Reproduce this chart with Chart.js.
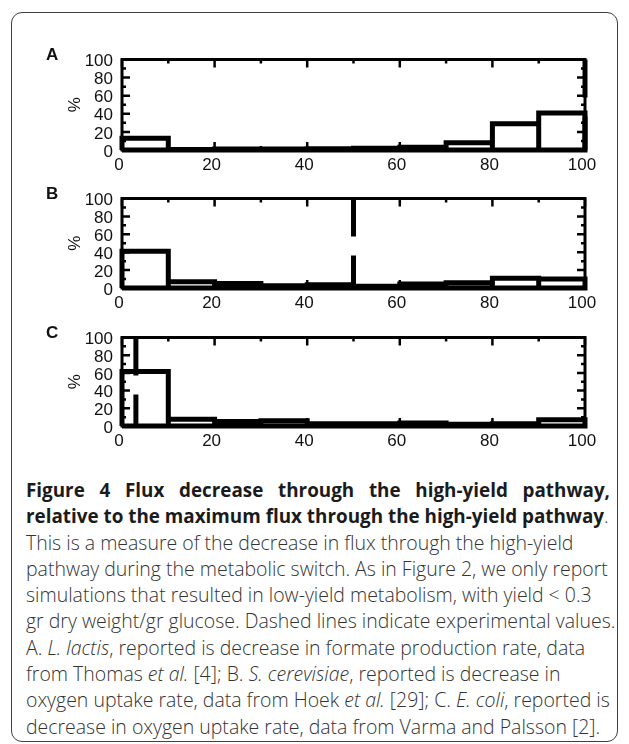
<!DOCTYPE html>
<html>
<head>
<meta charset="utf-8">
<script src="https://cdn.jsdelivr.net/npm/chart.js@4.4.1/dist/chart.umd.min.js"></script>
<style>
  html, body { margin:0; padding:0; background:#fff; }
  body { position:relative; width:629px; height:744px; overflow:hidden; }
  #box { position:absolute; left:11px; top:12px; width:607px; height:730px; box-sizing:border-box; border:1.6px solid #404040; border-radius:11px; }
  canvas.panel { position:absolute; left:0; }
  .letter { position:absolute; left:46px; font-family:"Liberation Sans", Arial, sans-serif; font-weight:bold; font-size:17px; line-height:17px; color:#111; }
  #caption { position:absolute; left:26px; top:477px; width:584px; color:#333; font-size:18px; }
  #caption .ln { white-space:nowrap; height:26.3px; line-height:26.3px; }
  #caption .bold { font-family:"Open Sans", sans-serif; font-weight:700; color:#1b1b1b; }
  #caption .reg { font-family:"Open Sans", sans-serif; font-weight:300; }
  #caption .just { text-align:justify; text-align-last:justify; white-space:normal; overflow:hidden; }
</style>
</head>
<body>
<div id="box"></div>
<canvas id="cA" class="panel"></canvas>
<canvas id="cB" class="panel"></canvas>
<canvas id="cC" class="panel"></canvas>
<div class="letter" id="lA"></div>
<div class="letter" id="lB"></div>
<div class="letter" id="lC"></div>

<div id="caption">
  <div class="ln bold just" id="boldLine1">Figure 4 Flux decrease through the high-yield pathway,</div>
  <div class="ln"><span id="boldRef"><span class="bold">relative to the maximum flux through the high-yield pathway</span><span class="reg">.</span></span></div>
  <div class="ln reg body">This is a measure of the decrease in flux through the high-yield</div>
  <div class="ln reg body"><span id="bodyRef">pathway during the metabolic switch. As in Figure 2, we only report</span></div>
  <div class="ln reg body">simulations that resulted in low-yield metabolism, with yield &lt; 0.3</div>
  <div class="ln reg body">gr dry weight/gr glucose. Dashed lines indicate experimental values.</div>
  <div class="ln reg body">A. <i>L. lactis</i>, reported is decrease in formate production rate, data</div>
  <div class="ln reg body">from Thomas <i>et al.</i> [4]; B. <i>S. cerevisiae</i>, reported is decrease in</div>
  <div class="ln reg body">oxygen uptake rate, data from Hoek <i>et al.</i> [29]; C. <i>E. coli</i>, reported is</div>
  <div class="ln reg body">decrease in oxygen uptake rate, data from Varma and Palsson [2].</div>
</div>

<script>
// ---- data ----
const binStarts = [0, 10, 20, 30, 40, 50, 60, 70, 80, 90];
const binWidth = 10;
const panelNames = ['A', 'B', 'C'];
const simA = [13, 0.5, 1, 1, 1.5, 2, 3, 8, 29, 41];
const simB = [41, 7, 5, 2.5, 3.5, 2, 4.5, 6, 11, 10];
const simC = [61.5, 7.7, 5, 6, 2.5, 2.5, 3.5, 2, 2.5, 7];
const experimentalA = 100;
const experimentalB = 50;
const experimentalC = 3;
const xTickValues = [0, 20, 40, 60, 80, 100];
const yTickValues = [0, 20, 40, 60, 80, 100];
const frameTickValues = [0, 10, 20, 30, 40, 50, 60, 70, 80, 90, 100];
const yAxisLabel = '%';

// ---- caption fitting ----
(function fitCaption() {
  const bodyRef = document.getElementById('bodyRef');
  const w = bodyRef.getBoundingClientRect().width;
  const bodySize = 18 * 582 / w;
  document.querySelectorAll('#caption .body').forEach(el => el.style.fontSize = bodySize + 'px');
  const boldRef = document.getElementById('boldRef');
  const wb = boldRef.getBoundingClientRect().width;
  const boldSize = 18 * 583 / wb;
  boldRef.style.fontSize = boldSize + 'px';
  document.getElementById('boldLine1').style.fontSize = boldSize + 'px';
})();

// ---- chart ----
const FONT = '"Liberation Sans", Arial, sans-serif';

const frameTicks = {
  id: 'frameTicks',
  afterDatasetsDraw(chart) {
    const { ctx, chartArea: a, scales: { x, y } } = chart;
    ctx.save();
    ctx.strokeStyle = '#000';
    ctx.lineWidth = 3;
    ctx.strokeRect(a.left, a.top, a.right - a.left, a.bottom - a.top);
    ctx.lineWidth = 2.5;
    ctx.beginPath();
    frameTickValues.forEach(v => {
      const len = (v % 20 === 0) ? 8 : 4;
      const px = x.getPixelForValue(v);
      ctx.moveTo(px, a.top); ctx.lineTo(px, a.top + len);
      ctx.moveTo(px, a.bottom); ctx.lineTo(px, a.bottom - len);
      const py = y.getPixelForValue(v);
      ctx.moveTo(a.left, py); ctx.lineTo(a.left + len, py);
      ctx.moveTo(a.right, py); ctx.lineTo(a.right - len, py);
    });
    ctx.stroke();
    ctx.restore();
  }
};

function outline(values) {
  const pts = [{ x: binStarts[0], y: 0 }];
  values.forEach((v, i) => {
    const s = binStarts[i];
    pts.push({ x: s, y: v }, { x: s + binWidth, y: v }, { x: s + binWidth, y: 0 });
  });
  pts.push({ x: binStarts[0], y: 0 });
  return pts;
}

function makePanel(canvasId, letterId, name, values, expX, plotTop, plotH) {
  const padTop = 12, axisH = 30;
  const cv = document.getElementById(canvasId);
  cv.width = 629; cv.height = padTop + plotH + axisH;
  cv.style.top = (plotTop - padTop) + 'px';
  const lt = document.getElementById(letterId);
  lt.textContent = name;
  lt.style.top = (plotTop - 8) + 'px';

  const yMin = yTickValues[0], yMax = yTickValues[yTickValues.length - 1];
  new Chart(cv, {
    type: 'line',
    data: {
      datasets: [
        {
          label: 'simulations',
          data: outline(values),
          borderColor: '#000', borderWidth: 5, pointRadius: 0,
          fill: false, tension: 0, clip: false,
          borderJoinStyle: 'miter', borderCapStyle: 'butt'
        },
        {
          label: 'experimental',
          data: [{ x: expX, y: yMax }, { x: expX, y: yMin }],
          borderColor: '#000', borderWidth: 5, pointRadius: 0,
          borderDash: [38, 19], fill: false, clip: false, borderCapStyle: 'butt'
        }
      ]
    },
    options: {
      responsive: false, animation: false, devicePixelRatio: 1,
      layout: { padding: { top: padTop, right: 44, left: 0, bottom: 0 } },
      plugins: { legend: { display: false }, tooltip: { enabled: false }, title: { display: false } },
      scales: {
        x: {
          type: 'linear', min: xTickValues[0], max: xTickValues[xTickValues.length - 1], offset: false,
          grid: { display: false, drawTicks: false }, border: { display: false },
          afterBuildTicks: s => { s.ticks = xTickValues.map(v => ({ value: v })); },
          ticks: { font: { family: FONT, size: 17 }, color: '#111', padding: 5, maxRotation: 0, autoSkip: false, labelOffset: -3 },
          afterFit: s => { s.height = axisH; }
        },
        y: {
          type: 'linear', min: yMin, max: yMax,
          grid: { display: false, drawTicks: false }, border: { display: false },
          afterBuildTicks: s => { s.ticks = yTickValues.map(v => ({ value: v })); },
          ticks: { font: { family: FONT, size: 17, lineHeight: 1 }, color: '#111', padding: 9, labelOffset: 2, autoSkip: false },
          title: { display: true, text: yAxisLabel, font: { family: FONT, size: 17 }, color: '#111', padding: { top: 65, bottom: 0 } },
          afterFit: s => { s.width = 122; }
        }
      }
    },
    plugins: [frameTicks]
  });
}

makePanel('cA', 'lA', panelNames[0], simA, experimentalA, 54, 96);
makePanel('cB', 'lB', panelNames[1], simB, experimentalB, 193, 95);
makePanel('cC', 'lC', panelNames[2], simC, experimentalC, 332, 94);
</script>
</body>
</html>
